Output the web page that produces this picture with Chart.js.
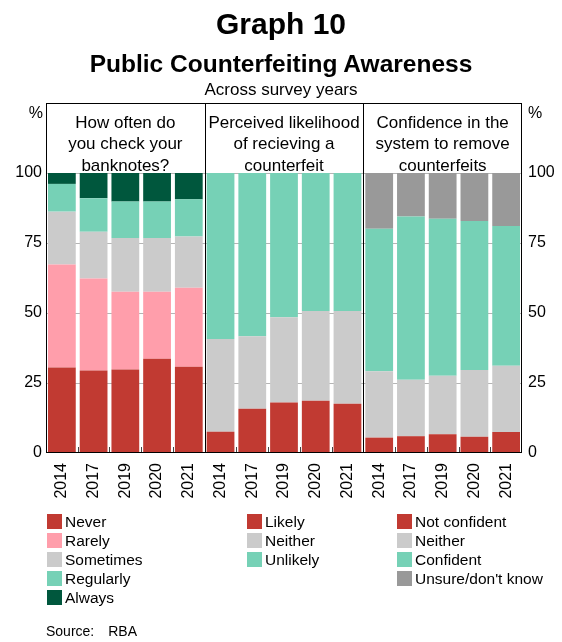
<!DOCTYPE html>
<html>
<head>
<meta charset="utf-8">
<title>Graph 10</title>
<script src="https://cdn.jsdelivr.net/npm/chart.js@4.4.1/dist/chart.umd.min.js"></script>
<style>
    body { margin: 0; background: #fff; font-family: "Liberation Sans", Arial, sans-serif; color: #000; }
    #contenedor { position: relative; width: 562px; height: 642px; overflow: hidden; }
    #grafico { position: absolute; left: 0; top: 0; }
    .titulo { position: absolute; left: 0; width: 562px; text-align: center; line-height: 1; white-space: nowrap; }
    .fila { position: absolute; height: 15px; white-space: nowrap; font-size: 15.5px; line-height: 15px; }
    .caja { position: absolute; left: 0; top: 0; width: 15px; height: 15px; }
    .texto { position: absolute; left: 18px; top: 0; }
    #fuente { position: absolute; left: 46px; top: 624px; font-size: 14px; line-height: 14px; }
</style>
</head>
<body>
<div id="contenedor">
    <canvas id="grafico" width="562" height="642"></canvas>
    <div class="titulo" style="top:9px; font-size:30px; font-weight:bold;">Graph 10</div>
    <div class="titulo" style="top:52px; font-size:24.5px; font-weight:bold;">Public Counterfeiting Awareness</div>
    <div class="titulo" style="top:80.5px; font-size:17px;">Across survey years</div>
    <div id="leyenda"></div>
    <div id="fuente">Source:<span style="margin-left:14px;">RBA</span></div>
</div>
<script>
// datos (porcentajes)
const anios = ['2014', '2017', '2019', '2020', '2021'];
const titulosPaneles = [
    ['How often do', 'you check your', 'banknotes?'],
    ['Perceived likelihood', 'of recieving a', 'counterfeit'],
    ['Confidence in the', 'system to remove', 'counterfeits']
];
const marcasY = [0, 25, 50, 75, 100];

// panel 1: how often do you check your banknotes?
const nunca = [30.5, 29.5, 29.8, 33.7, 30.8];
const raramente = [36.8, 32.8, 27.8, 23.9, 28.2];
const aVeces = [18.9, 16.7, 19.2, 19.2, 18.3];
const regularmente = [9.9, 12.0, 13.0, 13.0, 13.3];
const siempre = [3.9, 9.0, 10.2, 10.2, 9.4];

// panel 2: perceived likelihood
const probable = [7.6, 15.8, 18.0, 18.7, 17.6];
const ni2 = [33.1, 25.9, 30.5, 32.0, 33.1];
const improbable = [59.3, 58.3, 51.5, 49.3, 49.3];

// panel 3: confidence in the system
const noConfia = [5.5, 6.0, 6.7, 5.8, 7.5];
const ni3 = [23.7, 20.2, 20.9, 23.8, 23.7];
const confia = [50.9, 58.3, 56.1, 53.3, 49.9];
const noSabe = [19.9, 15.5, 16.3, 17.1, 18.9];

const rojo = '#C13A32';
const rosa = '#FF9EAB';
const grisClaro = '#CBCBCB';
const turquesa = '#76D1B6';
const verdeOscuro = '#00573D';
const gris = '#999999';

Chart.defaults.font.family = '"Liberation Sans", Arial, sans-serif';
Chart.defaults.color = '#000';

// cada panel ocupa 5 categorias del eje x
function enPanel(p, valores) {
    let d = [];
    for (let i = 0; i < anios.length * 3; i++) d.push(null);
    valores.forEach((v, i) => { d[p * anios.length + i] = v; });
    return d;
}

function serie(nombre, panel, valores, color) {
    return {
        label: nombre,
        panel: panel,
        data: enPanel(panel, valores),
        backgroundColor: color,
        borderWidth: 0,
        barPercentage: 0.875,
        categoryPercentage: 1
    };
}

const etiquetas = anios.concat(anios, anios);

const marcoPaneles = {
    id: 'marcoPaneles',
    afterDraw(chart) {
        const ctx = chart.ctx;
        const a = chart.chartArea;
        const x = chart.scales.x;
        const y = chart.scales.y;
        const n = anios.length;
        ctx.save();

        // pequenas marcas entre barras
        ctx.strokeStyle = '#444';
        ctx.lineWidth = 1;
        for (let i = 1; i < n * 3; i++) {
            if (i % n === 0) continue;
            const px = Math.round((x.getPixelForValue(i - 1) + x.getPixelForValue(i)) / 2) + 0.5;
            ctx.beginPath();
            ctx.moveTo(px, a.bottom);
            ctx.lineTo(px, a.bottom - 6);
            ctx.stroke();
        }

        // marco y divisiones
        ctx.strokeStyle = '#000';
        ctx.strokeRect(Math.round(a.left) + 0.5, Math.round(a.top) + 0.5,
            Math.round(a.right - a.left) - 1, Math.round(a.bottom - a.top) - 1);
        for (let p = 1; p < 3; p++) {
            const px = Math.round((x.getPixelForValue(p * n - 1) + x.getPixelForValue(p * n)) / 2) + 0.5;
            ctx.beginPath();
            ctx.moveTo(px, a.top);
            ctx.lineTo(px, a.bottom);
            ctx.stroke();
        }

        // titulos de panel
        ctx.fillStyle = '#000';
        ctx.font = '17px "Liberation Sans", Arial, sans-serif';
        ctx.textAlign = 'center';
        ctx.textBaseline = 'alphabetic';
        const base = y.getPixelForValue(100) - 2.3;
        titulosPaneles.forEach((lineas, p) => {
            const cx = x.getPixelForValue(p * n + 2);
            lineas.forEach((t, k) => {
                ctx.fillText(t, cx, base - (lineas.length - 1 - k) * 21.3);
            });
        });

        // unidades
        ctx.font = '16px "Liberation Sans", Arial, sans-serif';
        ctx.textBaseline = 'top';
        ctx.textAlign = 'right';
        ctx.fillText('%', a.left - 3, a.top + 3);
        ctx.textAlign = 'left';
        ctx.fillText('%', a.right + 6, a.top + 3);
        ctx.restore();
    }
};

function ticksY(relleno) {
    return {
        stepSize: 25,
        padding: relleno,
        font: { size: 16 },
        color: '#000',
        callback: v => marcasY.includes(v) ? v : ''
    };
}

const grafico = new Chart(document.getElementById('grafico'), {
    type: 'bar',
    data: {
        labels: etiquetas,
        datasets: [
            serie('Never', 0, nunca, rojo),
            serie('Rarely', 0, raramente, rosa),
            serie('Sometimes', 0, aVeces, grisClaro),
            serie('Regularly', 0, regularmente, turquesa),
            serie('Always', 0, siempre, verdeOscuro),
            serie('Likely', 1, probable, rojo),
            serie('Neither', 1, ni2, grisClaro),
            serie('Unlikely', 1, improbable, turquesa),
            serie('Not confident', 2, noConfia, rojo),
            serie('Neither', 2, ni3, grisClaro),
            serie('Confident', 2, confia, turquesa),
            serie('Unsure/don\'t know', 2, noSabe, gris)
        ]
    },
    options: {
        responsive: false,
        animation: false,
        layout: { padding: { top: 103, left: 0, right: 0, bottom: 0 } },
        plugins: {
            legend: { display: false },
            tooltip: { enabled: false }
        },
        scales: {
            x: {
                stacked: true,
                grid: { display: false },
                border: { display: false },
                ticks: {
                    autoSkip: false,
                    minRotation: 90,
                    maxRotation: 90,
                    padding: 2,
                    font: { size: 16 },
                    color: '#000'
                },
                afterFit: s => { s.height = 189; }
            },
            y: {
                position: 'left',
                stacked: true,
                min: 0,
                max: 125,
                ticks: ticksY(4),
                grid: {
                    drawTicks: false,
                    color: c => (c.tick.value > 0 && c.tick.value <= 100) ? '#b5b5b5' : 'rgba(0,0,0,0)'
                },
                border: { display: false },
                afterFit: s => { s.width = 46; }
            },
            y2: {
                position: 'right',
                min: 0,
                max: 125,
                ticks: ticksY(6),
                grid: { drawOnChartArea: false, drawTicks: false },
                border: { display: false },
                afterFit: s => { s.width = 40; }
            }
        }
    },
    plugins: [marcoPaneles]
});

// leyenda en tres columnas, una por panel
function armarLeyenda(chart) {
    const columnas = [47, 247, 397];
    const cont = document.getElementById('leyenda');
    const items = Chart.defaults.plugins.legend.labels.generateLabels(chart);
    let filas = [0, 0, 0];
    items.forEach(item => {
        const p = chart.data.datasets[item.datasetIndex].panel;
        const fila = document.createElement('div');
        fila.className = 'fila';
        fila.style.left = columnas[p] + 'px';
        fila.style.top = (514 + filas[p] * 19) + 'px';
        const caja = document.createElement('span');
        caja.className = 'caja';
        caja.style.background = item.fillStyle;
        const texto = document.createElement('span');
        texto.className = 'texto';
        texto.textContent = item.text;
        fila.appendChild(caja);
        fila.appendChild(texto);
        cont.appendChild(fila);
        filas[p]++;
    });
}
armarLeyenda(grafico);
</script>
</body>
</html>
